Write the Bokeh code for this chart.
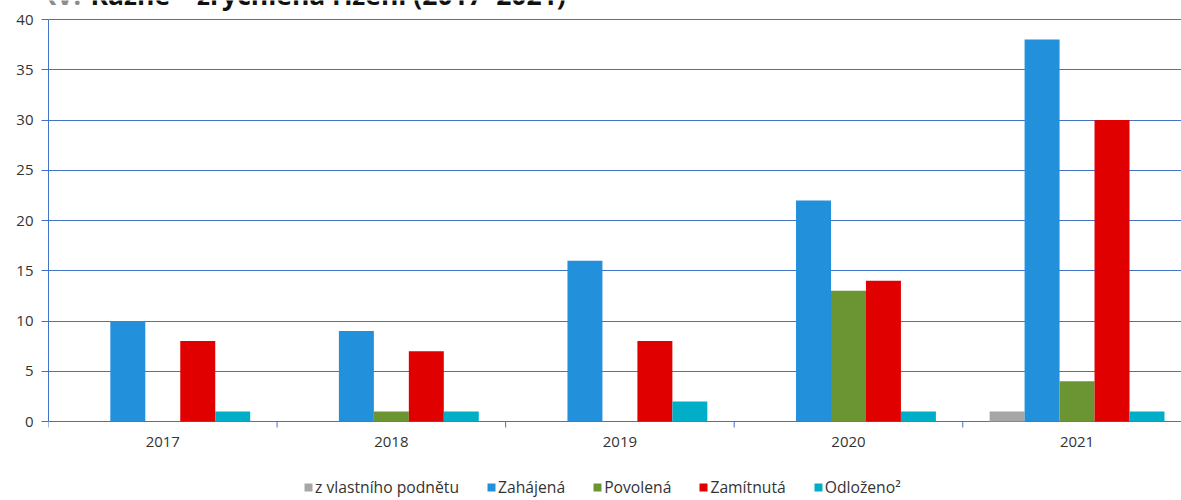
from bokeh.plotting import figure
from bokeh.models import (ColumnDataSource, FixedTicker, Legend, LegendItem, Label)
from bokeh.core.properties import value
from bokeh.embed import file_html
from bokeh.resources import INLINE

years = ["2017", "2018", "2019", "2020", "2021"]
series_names = ["z vlastního podnětu", "Zahájená", "Povolená", "Zamítnutá", "Odloženo²"]
vlastni = [0, 0, 0, 0, 1]
zahajena = [10, 9, 16, 22, 38]
povolena = [0, 1, 0, 13, 4]
zamitnuta = [8, 7, 8, 14, 30]
odlozeno = [1, 1, 2, 1, 1]
colors = ["#A6A6A6", "#2290DA", "#6A9532", "#E00000", "#00AEC7"]
title_prefix = "XV."
title_main = "Kázně – zrychlená řízení (2017–2021)"

series = [vlastni, zahajena, povolena, zamitnuta, odlozeno]

FONT = "Open Sans"
BLUE = "#4472C4"
YMAX = 40
PX_PER_UNIT = 402 / YMAX          # 40 at y=19, 0 at y=421
Y_BOTTOM = -(500 - 421) / PX_PER_UNIT
Y_TOP = YMAX + 19 / PX_PER_UNIT

p = figure(width=1181, height=500, output_backend="svg", toolbar_location=None,
           x_range=(0, 4.957), y_range=(Y_BOTTOM, Y_TOP),
           min_border_left=48, min_border_right=0, min_border_top=0,
           min_border_bottom=0)
p.outline_line_color = None
p.background_fill_color = "white"

bw = 0.153
offsets = [-2 * bw, -bw, 0, bw, 2 * bw]
renderers = []
for vals, off, col in zip(series, offsets, colors):
    src = ColumnDataSource(dict(x=[i + 0.5 + off for i in range(len(years))], top=vals))
    r = p.vbar(x="x", top="top", width=bw, bottom=0, source=src, fill_color=col,
               line_color=None)
    renderers.append(r)

# grid / y axis
p.xgrid.visible = False
yticks = list(range(0, YMAX + 1, 5))
p.ygrid.grid_line_color = BLUE
p.ygrid.grid_line_width = 1
p.ygrid.ticker = FixedTicker(ticks=yticks)

p.yaxis.ticker = FixedTicker(ticks=yticks)
p.yaxis.bounds = (0, YMAX)
p.yaxis.axis_line_color = BLUE
p.yaxis.major_tick_line_color = BLUE
p.yaxis.major_tick_out = 7
p.yaxis.major_tick_in = 0
p.yaxis.minor_tick_line_color = None
p.yaxis.major_label_standoff = 8
p.yaxis.major_label_text_font = FONT
p.yaxis.major_label_text_font_size = "15px"
p.yaxis.major_label_text_color = "#333333"

# category axis drawn at value 0
p.xaxis.visible = False
bounds = list(range(len(years) + 1))
tick_len = 6 / PX_PER_UNIT
p.segment(x0=bounds, y0=[0] * len(bounds), x1=bounds, y1=[-tick_len] * len(bounds),
          line_color=BLUE, line_width=1)
centers = [i + 0.5 for i in range(len(years))]
p.text(x=centers, y=[0] * len(years), text=years, y_offset=20,
       text_align="center", text_baseline="middle", text_font=value(FONT),
       text_font_size="15px", text_color="#333333")

# legend
items = [LegendItem(label=n, renderers=[r]) for n, r in zip(series_names, renderers)]
legend = Legend(items=items, orientation="horizontal", location=(255, 2),
                glyph_width=10, glyph_height=10, label_standoff=2, spacing=27,
                padding=0, margin=0, border_line_color=None, background_fill_alpha=0,
                label_text_font=FONT, label_text_font_size="15.7px",
                label_text_color="#333333", label_height=14)
p.add_layout(legend)

# title, cut off by the top edge as in the original
p.add_layout(Label(x=-10, y=506, x_units="screen", y_units="screen",
                   text=title_prefix, text_font=FONT, text_font_size="26.5px",
                   text_font_style="bold", text_color="#8C8C8C",
                   text_baseline="alphabetic"))
p.add_layout(Label(x=42, y=506, x_units="screen", y_units="screen",
                   text=title_main, text_font=FONT, text_font_size="26.5px",
                   text_font_style="bold", text_color="#111111",
                   text_baseline="alphabetic"))

open("out.html", "w").write(file_html(p, INLINE))
